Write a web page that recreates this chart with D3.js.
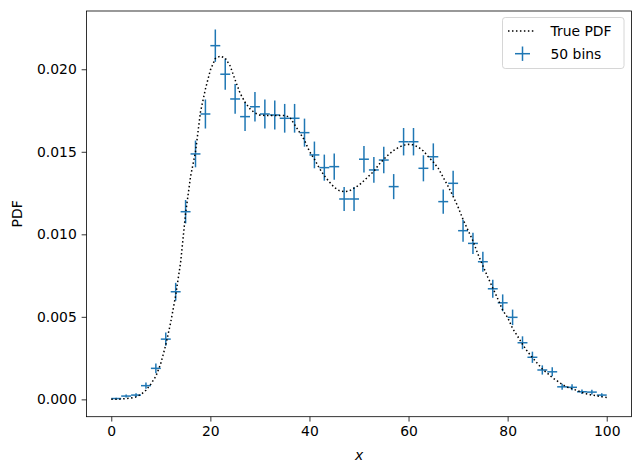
<html>

<head>
  <title>PDF histogram with error bars</title>
  <script src="https://d3js.org/d3.v7.min.js"></script>
  <style>
    body {
      margin: 0;
    }

    text {
      font-family: 'DejaVu Sans', sans-serif;
    }

    .axis text {
      font-size: 13.9px;
      fill: #000;
    }

    .axis line {
      stroke: #000;
      stroke-width: 0.8px;
    }

    .axis .domain {
      stroke: none;
    }

    .axis-label {
      font-size: 13.9px;
      text-anchor: middle;
    }
  </style>
</head>

<body>
  <svg id="pdfChart" width="642" height="475"></svg>

  <script>
    // bin centres (50 bins of width 2 between 0 and 100)
    const binCenters = [1, 3, 5, 7, 9, 11, 13, 15, 17, 19, 21, 23, 25, 27, 29, 31, 33, 35, 37, 39,
      41, 43, 45, 47, 49, 51, 53, 55, 57, 59, 61, 63, 65, 67, 69, 71, 73, 75, 77, 79,
      81, 83, 85, 87, 89, 91, 93, 95, 97, 99];
    const binHalfWidth = 1;
    const binPdf = [0.00005, 0.00020, 0.00026, 0.00083, 0.00188, 0.00365, 0.00652, 0.01137, 0.01487, 0.01729,
      0.02143, 0.0197, 0.0182, 0.01713, 0.01773, 0.01729, 0.01723, 0.01703, 0.01703, 0.01616,
      0.01481, 0.01404, 0.0141, 0.01214, 0.01214, 0.01455, 0.0139, 0.0145, 0.01289, 0.01561,
      0.01561, 0.014, 0.0147, 0.01198, 0.01309, 0.01022, 0.00945, 0.00834, 0.0067, 0.00585,
      0.00497, 0.00343, 0.00255, 0.00178, 0.00167, 0.00076, 0.00073, 0.00046, 0.00044, 0.00026];
    const binErr = [0.00005, 0.00009, 0.00011, 0.00019, 0.00029, 0.00040, 0.00054, 0.00071, 0.00081, 0.00088,
      0.00098, 0.00094, 0.00090, 0.00087, 0.00089, 0.00088, 0.00088, 0.00087, 0.00087, 0.00085,
      0.00081, 0.00079, 0.00079, 0.00073, 0.00073, 0.00080, 0.00078, 0.00080, 0.00076, 0.00083,
      0.00083, 0.00079, 0.00081, 0.00073, 0.00076, 0.00067, 0.00065, 0.00061, 0.00054, 0.00051,
      0.00047, 0.00039, 0.00034, 0.00028, 0.00027, 0.00018, 0.00018, 0.00014, 0.00014, 0.00011];

    // true pdf curve
    const pdfX = [0, 1, 2, 3, 4, 5, 6, 7, 8, 9, 10, 11, 12, 13, 14, 15, 16, 17, 18, 19, 20,
      21, 22, 23, 24, 25, 26, 27, 28, 29, 30, 31, 32, 33, 34, 35, 36, 37, 38, 39, 40,
      41, 42, 43, 44, 45, 46, 47, 48, 49, 50, 51, 52, 53, 54, 55, 56, 57, 58, 59, 60,
      61, 62, 63, 64, 65, 66, 67, 68, 69, 70, 71, 72, 73, 74, 75, 76, 77, 78, 79, 80,
      81, 82, 83, 84, 85, 86, 87, 88, 89, 90, 91, 92, 93, 94, 95, 96, 97, 98, 99, 100];
    const pdfY = [0.00000, 0.00000, 0.00002, 0.00005, 0.00008, 0.00015, 0.00030, 0.00055, 0.00093, 0.00140,
      0.00218, 0.00330, 0.00467, 0.00630, 0.00831, 0.01126, 0.01350, 0.01500, 0.01740, 0.01880,
      0.01995, 0.02065, 0.02080, 0.02068, 0.02020, 0.01935, 0.01855, 0.01800, 0.01760, 0.01735,
      0.01722, 0.01720, 0.01720, 0.01720, 0.01720, 0.01720, 0.01710, 0.01665, 0.01618, 0.01570,
      0.01502, 0.01455, 0.01400, 0.01355, 0.01318, 0.01285, 0.01265, 0.01258, 0.01262, 0.01280,
      0.01298, 0.01325, 0.01354, 0.01382, 0.01422, 0.01455, 0.01484, 0.01508, 0.01527, 0.01540,
      0.01545, 0.01542, 0.01528, 0.01505, 0.01470, 0.01438, 0.01400, 0.01345, 0.01290, 0.01230,
      0.01165, 0.01090, 0.01025, 0.00960, 0.00880, 0.00810, 0.00740, 0.00675, 0.00610, 0.00540,
      0.00496, 0.00430, 0.00383, 0.00334, 0.00290, 0.00253, 0.00218, 0.00184, 0.00159, 0.00132,
      0.00112, 0.00091, 0.00075, 0.00064, 0.00054, 0.00042, 0.00033, 0.00026, 0.00021, 0.00016,
      0.00012];

    const xTicks = [0, 20, 40, 60, 80, 100];
    const yTicks = [0, 0.005, 0.010, 0.015, 0.020];
    const legendLabels = ["True PDF", "50 bins"];

    const svg = d3.select("svg#pdfChart");
    const width = +svg.attr("width");
    const height = +svg.attr("height");
    const margin = { top: 11, right: 10.5, bottom: 58.3, left: 86.5 };
    const chartWidth = width - margin.left - margin.right;
    const chartHeight = height - margin.top - margin.bottom;
    const blue = "#1f77b4";

    svg.append("rect")
      .attr("width", width)
      .attr("height", height)
      .attr("fill", "#fff");

    const xScale = d3.scaleLinear()
      .domain([-5, 105])
      .range([0, chartWidth]);

    const yScale = d3.scaleLinear()
      .domain([-0.00105, 0.02353])
      .range([chartHeight, 0]);

    let annotations = svg.append("g").attr("id", "annotations");
    let chartArea = svg.append("g").attr("id", "points")
      .attr("transform", "translate(" + margin.left + "," + margin.top + ")");

    // axes
    let bottomAxis = d3.axisBottom(xScale)
      .tickValues(xTicks)
      .tickSizeInner(4.86)
      .tickSizeOuter(0)
      .tickPadding(4.86)
      .tickFormat(d3.format("d"));

    let leftAxis = d3.axisLeft(yScale)
      .tickValues(yTicks)
      .tickSizeInner(4.86)
      .tickSizeOuter(0)
      .tickPadding(4.86)
      .tickFormat(d3.format(".3f"));

    annotations.append("g")
      .attr("class", "x axis")
      .attr("transform", "translate(" + margin.left + "," + (margin.top + chartHeight) + ")")
      .call(bottomAxis);

    annotations.append("g")
      .attr("class", "y axis")
      .attr("transform", "translate(" + margin.left + "," + margin.top + ")")
      .call(leftAxis);

    annotations.selectAll(".axis text").attr("font-family", null);

    // axis labels
    svg.append("text")
      .attr("class", "x axis-label")
      .attr("x", margin.left + chartWidth / 2)
      .attr("y", 460)
      .attr("font-style", "italic")
      .text("x");

    svg.append("text")
      .attr("class", "y axis-label")
      .attr("transform", "translate(22," + (margin.top + chartHeight / 2) + ") rotate(-90)")
      .text("PDF");

    // error bars
    const bins = binCenters.map((c, i) => ({ c: c, v: binPdf[i], e: binErr[i] }));

    chartArea.selectAll("line.ybar")
      .data(bins)
      .enter()
      .append("line")
      .attr("class", "ybar")
      .attr("x1", d => xScale(d.c))
      .attr("x2", d => xScale(d.c))
      .attr("y1", d => yScale(d.v - d.e))
      .attr("y2", d => yScale(d.v + d.e))
      .attr("stroke", blue)
      .attr("stroke-width", 1.5);

    chartArea.selectAll("line.xbar")
      .data(bins)
      .enter()
      .append("line")
      .attr("class", "xbar")
      .attr("x1", d => xScale(d.c - binHalfWidth))
      .attr("x2", d => xScale(d.c + binHalfWidth))
      .attr("y1", d => yScale(d.v))
      .attr("y2", d => yScale(d.v))
      .attr("stroke", blue)
      .attr("stroke-width", 1.5);

    // true pdf (dotted)
    const pdfLine = d3.line()
      .x((d, i) => xScale(pdfX[i]))
      .y(d => yScale(d));

    chartArea.append("path")
      .datum(pdfY)
      .attr("d", pdfLine)
      .attr("fill", "none")
      .attr("stroke", "#000")
      .attr("stroke-width", 1.5)
      .attr("stroke-dasharray", "1.5,2.475");

    // frame
    chartArea.append("rect")
      .attr("width", chartWidth)
      .attr("height", chartHeight)
      .attr("fill", "none")
      .attr("stroke", "#000")
      .attr("stroke-width", 0.8);

    // legend
    const legend = svg.append("g")
      .attr("class", "legendGroup")
      .attr("transform", "translate(502.5,17.5)");

    legend.append("rect")
      .attr("width", 121.5)
      .attr("height", 51)
      .attr("rx", 2.8)
      .attr("fill", "#fff")
      .attr("fill-opacity", 0.8)
      .attr("stroke", "#ccc")
      .attr("stroke-width", 0.8);

    legend.append("line")
      .attr("x1", 5.5)
      .attr("x2", 33.3)
      .attr("y1", 13.5)
      .attr("y2", 13.5)
      .attr("stroke", "#000")
      .attr("stroke-width", 1.5)
      .attr("stroke-dasharray", "1.5,2.475");

    legend.append("line")
      .attr("x1", 12.5)
      .attr("x2", 27.5)
      .attr("y1", 36.2)
      .attr("y2", 36.2)
      .attr("stroke", blue)
      .attr("stroke-width", 1.5);

    legend.append("line")
      .attr("x1", 20)
      .attr("x2", 20)
      .attr("y1", 29)
      .attr("y2", 43.4)
      .attr("stroke", blue)
      .attr("stroke-width", 1.5);

    legend.selectAll("text.legendText")
      .data(legendLabels)
      .enter()
      .append("text")
      .attr("class", "legendText")
      .attr("x", 48)
      .attr("y", (d, i) => 13.5 + i * 22.7)
      .attr("dy", "0.36em")
      .attr("font-size", "13.9px")
      .attr("fill", "#000")
      .text(d => d);
  </script>
</body>

</html>
